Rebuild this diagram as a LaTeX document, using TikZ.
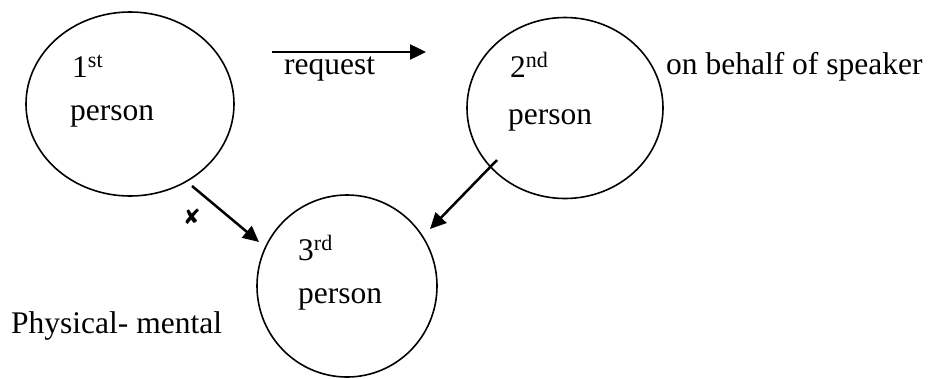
\documentclass[tikz,border=0pt]{standalone}
\usepackage{fontspec}
\setmainfont{Liberation Serif}
\newfontfamily\symfont{DejaVu Sans}
\usetikzlibrary{shapes.geometric,arrows.meta}
\begin{document}
\begin{tikzpicture}[x=1pt,y=-1pt,
  pers/.style={draw,ellipse,line width=1.6pt,inner sep=0pt},
  lbl/.style={font=\fontsize{31.5}{33}\selectfont,inner sep=0pt,anchor=base west},
  arr/.style={line width=2.5pt,-{Triangle[length=16pt,width=15pt]}}]
\useasboundingbox (0,0) rectangle (936,378);
\node[pers,minimum width=208pt,minimum height=184pt] (c1) at (130,104) {};
\node[pers,minimum width=196pt,minimum height=181pt] (c2) at (565,108) {};
\node[pers,minimum width=180pt,minimum height=182pt] (c3) at (347,286) {};
\node[lbl] (t1) at (72,77) {1\textsuperscript{st}};
\node[lbl] (p1) at (70,120) {person};
\node[lbl] (t2) at (510,77) {2\textsuperscript{nd}};
\node[lbl] (p2) at (508,124) {person};
\node[lbl] (t3) at (298,260) {3\textsuperscript{rd}};
\node[lbl] (p3) at (298,303) {person};
\node[lbl] (req) at (284,74) {request};
\node[lbl] (beh) at (666,74) {on behalf of speaker};
\node[lbl] (phy) at (11,333) {Physical- mental};
\node[inner sep=0pt,font=\symfont\fontsize{21}{22}\selectfont] (x) at (192,217) {✘};
\coordinate (r1) at (272,52);
\coordinate (r2) at (426,52);
\coordinate (a1) at (192,186);
\coordinate (a2) at (259,242);
\coordinate (b1) at (497,160);
\coordinate (b2) at (430,229);
\draw[arr] (r1) -- (r2);
\draw[arr] (a1) -- (a2);
\draw[arr] (b1) -- (b2);
\end{tikzpicture}
\end{document}
